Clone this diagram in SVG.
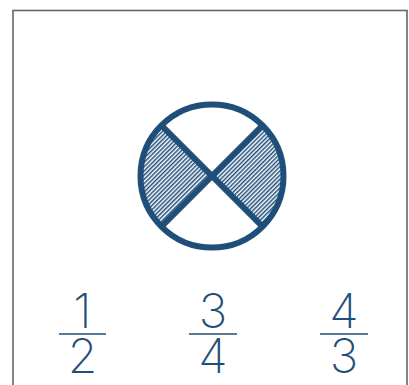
<svg xmlns="http://www.w3.org/2000/svg" width="409" height="385" viewBox="0 0 409 385">
<defs>
<pattern id="hatch" patternUnits="userSpaceOnUse" width="3" height="3" patternTransform="rotate(45)">
<rect width="3" height="3" fill="#ffffff"/>
<rect x="0" y="0" width="1.5" height="3" fill="#1f4e79"/>
</pattern>
</defs>
<style>
.frame{fill:#fff;stroke:#666;stroke-width:1.6}
.ring{fill:none;stroke:#1f4e79;stroke-width:6}
.wedge{fill:url(#hatch);stroke:none}
.digit{font-family:Inter,"Liberation Sans",sans-serif;font-weight:150;font-size:48px;fill:#1f4e79;text-anchor:middle}
.bar{stroke:#1f4e79;stroke-width:1.5}
</style>
<rect class="frame" x="13" y="10.5" width="394" height="390"/>
<g id="circle">
<path class="wedge" d="M212,176 L161.4,125.4 A71.5 71.5 0 0 0 161.4,226.6 Z"/>
<path class="wedge" d="M212,176 L262.6,125.4 A71.5 71.5 0 0 1 262.6,226.6 Z"/>
<circle class="ring" cx="212" cy="176" r="71.5"/>
<line class="ring" x1="161.4" y1="125.4" x2="262.6" y2="226.6"/>
<line class="ring" x1="262.6" y1="125.4" x2="161.4" y2="226.6"/>
</g>
<g id="frac1">
<text class="digit" x="82.5" y="328">1</text>
<line class="bar" x1="59" y1="334" x2="106" y2="334"/>
<text class="digit" x="82.5" y="373">2</text>
</g>
<g id="frac2">
<text class="digit" x="213" y="328">3</text>
<line class="bar" x1="189" y1="334" x2="237" y2="334"/>
<text class="digit" x="213" y="373">4</text>
</g>
<g id="frac3">
<text class="digit" x="344" y="328">4</text>
<line class="bar" x1="320" y1="334" x2="368" y2="334"/>
<text class="digit" x="344" y="373">3</text>
</g>
</svg>
